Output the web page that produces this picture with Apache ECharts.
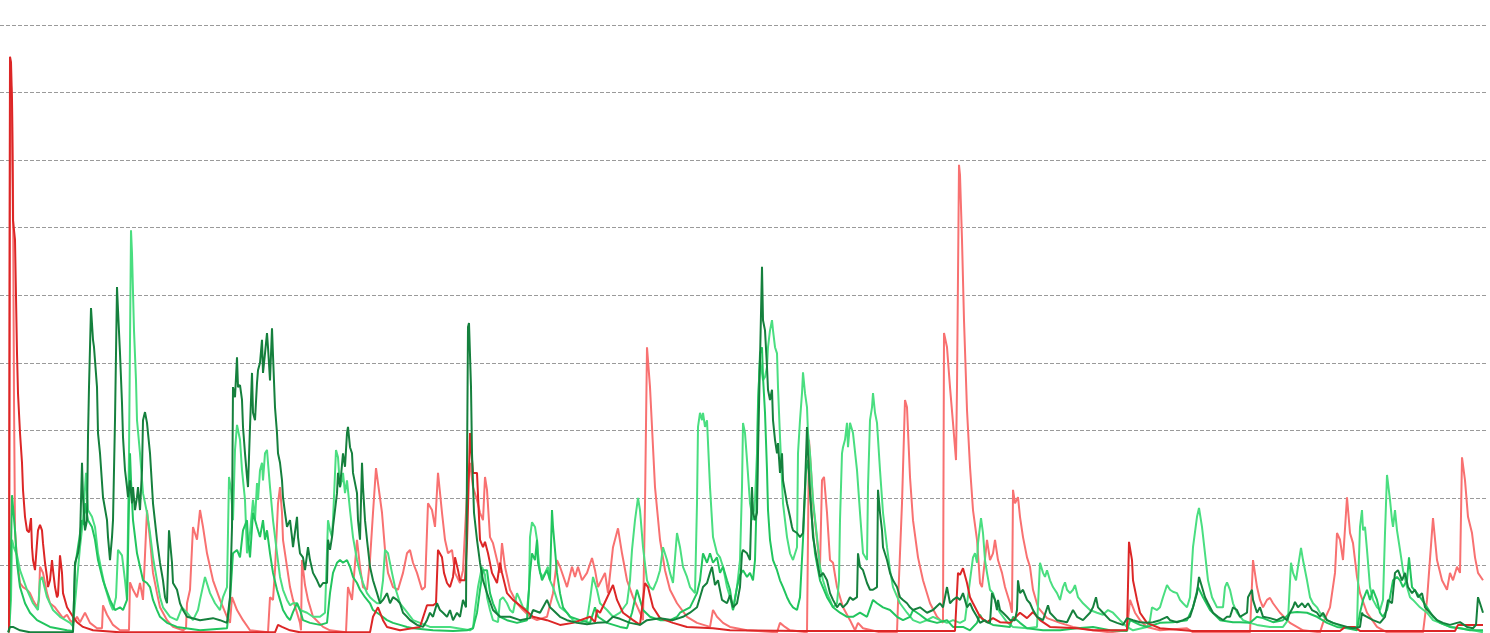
<!DOCTYPE html>
<html>
<head>
<meta charset="utf-8">
<style>html,body{margin:0;padding:0;background:#fff;}#chart{width:1490px;height:633px;}</style>
<script src="https://cdn.jsdelivr.net/npm/echarts@6/dist/echarts.min.js"></script>
</head>
<body>
<div id="chart"></div>
<script>
// y-axis ticks
const yTicks = [0, 10, 20, 30, 40, 50, 60, 70, 80, 90];
const dayRange = [0, 1487];

// [day, value]
const darkRed = [[9,0.1],[10,85.3],[11,84.5],[12,78.9],[13,61.1],[15,58.2],[17,41.4],[18,35.5],[20,29.6],[22,25.2],[23,21.2],[25,17.2],[27,15.2],[29,14.9],[31,17.0],[32,12.7],[33,10.8],[35,9.3],[37,13.3],[38,15.2],[40,16.0],[42,15.2],[43,13.3],[45,10.4],[47,8.3],[48,6.8],[50,7.8],[52,10.8],[53,9.3],[55,6.8],[57,5.3],[58,5.6],[60,11.5],[62,8.9],[63,5.9],[67,3.8],[70,3.1],[73,2.4],[77,1.6],[83,0.9],[93,0.4],[120,0.1],[200,0.1],[275,0.1],[278,1.2],[282,0.9],[290,0.4],[300,0.1],[370,0.1],[373,2.4],[378,3.8],[383,1.9],[387,0.9],[400,0.4],[420,0.9],[427,4.1],[433,4.1],[436,4.4],[438,12.3],[442,11.2],[444,8.9],[447,7.4],[450,6.8],[453,8.3],[455,11.2],[458,9.3],[460,7.8],[465,7.8],[467,13.3],[470,29.6],[473,23.7],[477,23.7],[480,13.8],[483,12.7],[485,13.5],[488,11.8],[492,8.9],[497,7.4],[500,10.4],[502,8.9],[507,5.9],[513,4.9],[523,3.7],[533,2.4],[547,1.9],[560,1.2],[573,1.5],[590,2.4],[595,1.6],[597,3.4],[600,3.0],[613,7.1],[617,4.9],[623,3.0],[633,1.9],[640,1.2],[645,7.4],[648,6.8],[653,3.8],[660,2.2],[673,1.5],[687,0.9],[713,0.7],[730,0.4],[800,0.3],[900,0.3],[955,0.3],[958,8.9],[960,8.6],[963,9.6],[967,7.4],[970,5.3],[973,4.4],[980,2.4],[987,1.6],[993,2.2],[1000,1.6],[1010,1.5],[1020,3.0],[1027,2.2],[1033,3.1],[1040,1.9],[1050,0.9],[1077,0.7],[1093,0.4],[1127,0.4],[1129,13.5],[1132,10.8],[1133,7.8],[1137,4.9],[1140,3.0],[1147,1.5],[1160,0.7],[1193,0.3],[1340,0.3],[1345,0.9],[1355,0.9],[1360,0.3],[1455,0.3],[1458,1.2],[1483,1.2]];

const salmon = [[9,0.1],[10,83.3],[12,78.9],[13,65.6],[14,34.5],[15,15.2],[17,10.8],[20,7.4],[23,6.8],[27,6.4],[30,5.9],[33,4.9],[37,3.8],[39,4.9],[40,9.8],[43,8.9],[47,5.9],[50,4.4],[55,3.8],[57,3.4],[63,2.2],[67,2.7],[70,1.9],[73,1.5],[77,2.4],[80,1.6],[85,3.0],[90,1.5],[97,0.7],[102,0.7],[103,4.1],[107,2.7],[113,1.2],[120,0.4],[129,0.4],[130,7.5],[133,6.4],[137,5.3],[140,7.4],[143,4.9],[147,18.2],[150,13.8],[153,8.9],[157,5.9],[160,3.8],[167,1.9],[173,0.9],[183,0.4],[186,0.7],[187,4.4],[190,6.4],[193,15.7],[197,13.8],[200,18.2],[203,15.7],[207,11.8],[213,7.8],[220,4.9],[227,2.4],[230,1.5],[232,5.3],[237,3.4],[243,1.9],[250,0.4],[268,0.1],[270,5.3],[273,4.9],[275,9.3],[278,19.2],[280,21.6],[282,17.8],[283,13.8],[287,9.8],[290,6.8],[293,4.9],[297,3.0],[300,1.5],[301,0.4],[302,10.8],[305,7.1],[308,4.9],[313,2.4],[323,0.9],[330,0.4],[346,0.1],[348,6.8],[352,4.9],[357,13.8],[360,9.8],[363,6.8],[367,6.4],[370,10.8],[373,17.8],[376,24.4],[378,22.2],[382,17.8],[385,12.3],[388,8.9],[393,6.8],[398,6.4],[403,8.9],[407,11.8],[410,12.3],[413,10.4],[417,8.9],[422,6.4],[425,6.8],[428,19.2],[432,18.2],[435,15.7],[438,23.7],[442,17.8],[445,13.8],[448,11.8],[452,12.3],[455,8.9],[460,7.4],[463,9.3],[467,20.7],[470,25.2],[473,21.6],[477,19.7],[480,17.8],[483,16.7],[485,23.1],[487,21.2],[490,14.2],[493,13.3],[497,10.8],[500,8.9],[502,13.3],[505,9.8],[510,6.4],[517,4.4],[523,3.4],[530,2.4],[537,1.9],[547,2.4],[553,5.9],[557,10.8],[560,9.8],[567,6.8],[572,9.8],[575,8.3],[578,9.8],[582,7.8],[587,8.9],[592,11.1],[595,9.3],[598,6.8],[605,8.9],[608,5.9],[613,12.7],[618,15.5],[622,11.8],[627,7.8],[633,5.3],[640,3.0],[643,1.9],[645,19.2],[647,42.3],[650,36.4],[652,30.5],[655,21.6],[660,13.8],[665,9.3],[670,6.4],[677,4.4],[687,2.4],[697,1.5],[710,0.9],[713,3.4],[717,2.4],[723,1.5],[730,0.9],[747,0.4],[777,0.1],[780,1.5],[785,0.9],[790,0.4],[807,0.1],[809,28.6],[811,24.1],[813,19.2],[817,13.8],[820,9.8],[822,22.6],[824,23.1],[827,17.8],[830,10.8],[833,10.4],[837,6.8],[843,3.8],[850,1.9],[855,0.4],[858,1.5],[863,0.7],[880,0.1],[897,0.1],[898,4.4],[902,19.2],[905,34.5],[907,33.4],[910,23.1],[913,16.7],[918,11.2],[923,7.8],[930,4.4],[937,2.4],[943,1.5],[944,44.4],[947,42.3],[950,36.4],[953,31.1],[956,25.6],[957,36.4],[959,69.3],[960,67.8],[962,58.2],[964,46.3],[967,33.0],[970,24.6],[973,18.2],[977,13.8],[980,7.4],[982,6.8],[987,13.8],[990,10.8],[993,11.8],[995,13.8],[998,10.8],[1002,8.9],[1005,6.8],[1010,4.4],[1012,3.0],[1013,21.2],[1015,19.2],[1018,20.1],[1020,17.2],[1023,14.2],[1027,11.2],[1030,9.8],[1033,6.4],[1038,3.8],[1047,2.2],[1060,1.5],[1073,0.9],[1093,0.4],[1110,0.1],[1127,0.4],[1130,4.9],[1135,3.0],[1140,1.9],[1147,0.9],[1160,0.4],[1187,0.7],[1193,0.1],[1250,0.1],[1253,10.8],[1257,6.8],[1260,4.9],[1263,3.8],[1267,4.9],[1270,5.2],[1273,4.4],[1280,3.0],[1290,1.5],[1303,0.4],[1320,0.1],[1323,1.5],[1330,3.8],[1335,8.9],[1337,14.8],[1340,13.8],[1343,10.8],[1347,20.1],[1350,14.8],[1353,13.3],[1357,8.3],[1360,5.9],[1367,3.0],[1377,0.9],[1387,0.1],[1423,0.1],[1427,4.9],[1433,17.0],[1437,10.8],[1442,7.8],[1447,6.4],[1450,8.9],[1453,7.8],[1457,9.8],[1460,8.9],[1462,26.0],[1465,22.6],[1468,17.2],[1472,14.8],[1475,11.2],[1478,8.9],[1483,7.8]];

const darkGreen = [[8,0.1],[10,0.9],[13,0.9],[20,0.4],[30,0.1],[73,0.1],[74,4.9],[75,10.4],[78,11.8],[80,13.8],[82,25.2],[83,20.1],[85,15.2],[87,16.7],[88,29.0],[89,36.4],[91,48.1],[93,43.4],[94,42.3],[97,36.4],[98,29.6],[100,26.6],[103,20.1],[107,16.7],[108,14.2],[110,10.8],[112,14.2],[113,16.7],[115,31.5],[117,51.2],[118,47.8],[120,41.4],[122,34.0],[123,29.0],[125,24.1],[127,21.6],[128,20.1],[130,22.6],[132,19.2],[133,21.6],[135,18.2],[137,20.1],[138,21.6],[140,18.2],[142,24.1],[143,31.5],[145,32.7],[147,31.1],[148,29.6],[150,26.6],[153,19.2],[157,13.8],[160,10.4],[163,7.8],[165,5.3],[167,4.4],[169,15.2],[172,10.4],[173,7.4],[177,6.4],[180,4.4],[183,3.4],[187,2.4],[200,1.9],[213,2.2],[220,1.9],[227,1.5],[230,5.3],[232,15.7],[233,36.4],[235,34.9],[237,40.8],[238,36.4],[240,36.7],[242,34.5],[243,30.5],[245,26.6],[247,23.1],[248,21.6],[250,30.5],[252,38.5],[253,32.6],[255,31.5],[257,37.0],[258,38.9],[260,40.0],[262,43.4],[263,38.5],[265,41.4],[267,44.4],[268,42.3],[270,37.4],[272,45.1],[273,41.1],[275,33.4],[277,29.6],[278,26.6],[280,25.2],[282,22.6],[283,20.1],[285,17.8],[287,15.7],[290,16.7],[292,14.2],[293,12.7],[297,17.2],[298,14.2],[300,11.8],[303,11.2],[305,9.3],[308,12.7],[310,10.8],[313,8.9],[317,7.8],[320,6.8],[323,7.4],[327,7.4],[328,13.8],[330,12.3],[332,14.2],[333,15.7],[337,20.7],[338,23.7],[340,21.6],[343,26.6],[345,24.6],[347,29.6],[348,30.5],[350,27.5],[352,26.6],[353,23.7],[357,20.7],[358,16.7],[360,13.8],[362,25.2],[363,21.6],[365,16.7],[367,13.8],[370,9.8],[373,7.8],[377,5.9],[380,4.4],[383,4.9],[387,5.9],[390,4.4],[393,5.3],[397,4.9],[400,4.4],[403,3.0],[407,2.4],[410,1.9],[417,1.2],[423,0.9],[427,1.9],[430,3.0],[433,2.4],[437,4.4],[440,3.4],[443,3.0],[447,2.4],[450,3.4],[453,1.9],[457,3.0],[460,2.4],[463,4.9],[466,3.8],[468,45.3],[469,45.9],[471,36.4],[472,26.6],[474,17.8],[477,13.8],[480,10.4],[483,7.8],[487,5.9],[493,3.4],[500,2.4],[510,2.4],[520,1.9],[530,2.2],[533,3.4],[540,3.0],[547,4.9],[550,3.8],[553,3.4],[560,2.4],[567,1.9],[577,1.5],[587,1.3],[597,1.5],[607,1.6],[613,2.4],[620,2.1],[630,1.5],[640,1.2],[647,1.9],[660,2.2],[673,1.9],[683,2.4],[690,3.0],[697,3.8],[700,5.3],[703,6.8],[707,7.4],[710,8.9],[712,9.8],[715,7.1],[718,7.8],[722,4.9],[727,4.4],[730,5.6],[733,3.8],[737,4.4],[740,6.8],[742,11.8],[743,12.3],[747,11.8],[750,10.8],[752,21.6],[753,17.8],[755,16.7],[757,17.8],[758,26.6],[760,40.4],[762,54.2],[763,46.3],[765,44.8],[767,39.4],[768,36.0],[770,34.5],[772,36.0],[773,31.5],[775,28.6],[777,26.6],[778,28.1],[780,23.7],[782,26.6],[783,22.6],[787,19.2],[790,17.2],[792,15.7],[793,15.2],[797,14.8],[800,14.2],[803,14.8],[805,21.6],[807,30.5],[808,26.6],[810,20.7],[812,16.7],[813,14.2],[817,10.8],[820,8.3],[823,8.9],[827,7.8],[830,5.9],[833,4.9],[837,3.8],[840,4.4],[843,3.8],[847,4.4],[850,5.3],[853,4.9],[857,5.3],[858,11.8],[860,9.8],[863,9.3],[867,7.4],[870,6.4],[873,6.4],[877,6.8],[878,21.2],[880,17.8],[882,15.2],[883,12.7],[887,10.8],[890,8.9],[893,7.8],[897,6.8],[900,5.3],[903,4.9],[907,4.4],[910,3.8],[913,3.4],[920,3.8],[927,3.0],[933,3.4],[940,4.4],[943,3.8],[947,6.8],[950,4.4],[953,4.9],[957,5.3],[960,4.9],[963,5.9],[965,6.1],[967,3.8],[970,4.4],[973,3.4],[977,2.4],[980,1.5],[985,1.9],[987,1.6],[990,1.5],[992,5.9],[995,4.9],[997,3.4],[998,4.9],[1000,3.4],[1003,3.0],[1007,2.4],[1010,1.9],[1015,1.9],[1017,3.4],[1018,7.8],[1020,5.9],[1023,6.4],[1027,4.9],[1030,4.4],[1033,3.4],[1037,2.4],[1043,1.9],[1048,4.1],[1050,3.0],[1057,1.9],[1067,1.6],[1073,3.4],[1077,2.4],[1083,1.9],[1090,3.0],[1093,3.8],[1096,5.3],[1098,3.8],[1103,3.0],[1110,1.9],[1117,1.5],[1123,1.2],[1127,2.2],[1133,1.9],[1140,1.6],[1147,1.5],[1153,1.6],[1160,1.9],[1167,2.4],[1170,1.9],[1177,1.6],[1183,1.9],[1190,2.4],[1193,3.8],[1197,5.9],[1199,8.3],[1202,6.8],[1205,5.3],[1208,4.4],[1213,3.0],[1218,2.4],[1223,1.9],[1227,2.4],[1230,2.4],[1233,3.8],[1237,3.4],[1240,2.4],[1247,3.0],[1248,5.3],[1252,6.4],[1253,4.9],[1257,3.0],[1260,3.8],[1263,2.4],[1270,2.2],[1277,1.9],[1283,2.4],[1287,1.9],[1290,3.0],[1293,3.8],[1295,4.6],[1298,3.8],[1302,4.4],[1305,3.8],[1308,4.4],[1312,3.4],[1317,3.0],[1320,2.4],[1323,3.0],[1327,1.9],[1333,1.5],[1340,1.2],[1347,0.9],[1353,0.7],[1360,0.9],[1362,3.0],[1363,2.7],[1367,2.4],[1373,1.9],[1380,1.5],[1385,2.4],[1388,4.9],[1392,4.4],[1395,8.9],[1398,9.3],[1402,7.8],[1405,8.9],[1408,6.8],[1412,5.9],[1415,6.4],[1418,5.3],[1422,5.9],[1425,3.8],[1430,3.0],[1437,1.9],[1443,1.5],[1450,1.2],[1457,1.5],[1460,1.6],[1467,0.9],[1473,0.7],[1476,1.2],[1478,5.3],[1480,4.4],[1483,3.0]];

const midGreen = [[9,0.1],[10,4.9],[12,20.4],[15,15.2],[17,10.4],[20,6.8],[25,4.4],[30,3.0],[37,1.9],[50,0.9],[67,0.4],[73,0.3],[75,9.8],[78,12.7],[82,16.7],[84,16.0],[85,19.2],[88,16.7],[92,15.7],[95,13.8],[98,10.8],[103,7.8],[110,4.9],[115,3.4],[120,3.8],[123,3.4],[127,4.9],[128,11.8],[130,26.6],[131,22.6],[133,16.7],[137,11.8],[140,9.8],[143,7.8],[147,7.4],[150,6.8],[153,4.9],[157,3.4],[160,2.4],[167,1.5],[177,0.9],[200,0.4],[227,0.7],[230,4.9],[233,11.8],[237,12.3],[240,11.2],[243,15.2],[247,16.7],[248,13.8],[250,11.2],[253,17.8],[257,15.7],[260,14.2],[263,16.7],[265,13.8],[267,15.2],[270,11.8],[273,8.9],[277,6.4],[280,4.9],[283,3.4],[287,2.4],[290,1.9],[293,3.1],[297,4.4],[300,3.4],[303,1.9],[310,1.5],[320,1.2],[327,1.5],[330,5.9],[333,8.9],[337,10.4],[340,10.8],[343,10.4],[347,10.8],[350,9.8],[353,8.3],[357,7.4],[360,6.4],[365,5.3],[370,4.4],[373,3.4],[380,2.7],[387,1.9],[393,1.5],[400,1.2],[407,0.9],[413,0.7],[433,0.4],[453,0.3],[467,0.4],[473,0.7],[477,3.0],[480,6.4],[483,9.3],[487,9.3],[490,5.9],[493,4.4],[497,3.0],[500,2.4],[507,1.9],[517,1.5],[527,1.9],[530,8.9],[532,11.8],[535,10.8],[537,13.8],[538,10.4],[542,7.8],[547,9.3],[550,7.8],[552,18.2],[553,15.7],[557,8.9],[560,5.9],[563,3.8],[570,2.4],[580,1.9],[590,1.5],[595,3.8],[598,2.4],[607,1.5],[620,0.9],[627,0.7],[632,3.0],[637,6.4],[640,4.9],[643,3.4],[650,2.4],[660,1.9],[670,1.9],[677,2.4],[680,3.0],[690,3.8],[697,5.9],[700,7.8],[703,11.8],[707,10.4],[710,11.8],[713,10.4],[717,11.2],[720,8.9],[723,9.8],[727,7.8],[730,6.4],[733,3.4],[737,6.8],[740,8.6],[743,9.3],[747,8.3],[750,8.9],[753,7.8],[755,10.8],[757,21.6],[758,33.4],[760,41.4],[762,42.3],[763,37.9],[765,32.6],[767,24.1],[768,18.2],[770,13.8],[773,10.8],[777,9.3],[780,7.8],[783,6.8],[787,5.3],[790,4.4],[793,3.8],[797,3.4],[800,5.3],[803,13.8],[806,24.1],[808,25.6],[810,21.2],[812,16.7],[815,11.8],[820,7.8],[827,5.3],[833,3.8],[840,3.0],[847,2.4],[853,2.4],[860,3.0],[867,2.4],[873,4.9],[877,4.4],[883,3.8],[890,3.4],[897,2.4],[903,1.9],[910,2.4],[913,3.4],[920,2.7],[927,1.9],[937,1.5],[947,1.9],[953,0.9],[963,0.9],[970,0.4],[977,1.5],[980,2.7],[983,1.9],[993,1.2],[1010,0.9],[1013,2.4],[1020,1.5],[1027,0.7],[1043,0.4],[1060,0.4],[1077,0.7],[1093,0.9],[1110,0.4],[1127,0.3],[1130,1.9],[1140,1.2],[1147,0.9],[1160,1.5],[1173,1.6],[1187,1.9],[1193,3.8],[1198,6.8],[1203,5.3],[1210,3.4],[1220,1.9],[1233,1.6],[1240,1.6],[1250,1.5],[1257,2.4],[1263,2.2],[1273,1.6],[1283,1.9],[1290,3.0],[1297,3.1],[1307,3.0],[1317,2.4],[1327,1.5],[1337,0.9],[1347,0.7],[1357,0.4],[1360,3.0],[1363,4.9],[1367,6.4],[1370,4.9],[1373,6.4],[1377,4.9],[1380,3.0],[1383,2.4],[1387,3.4],[1390,5.3],[1393,7.8],[1397,8.3],[1400,7.8],[1403,6.8],[1407,7.8],[1409,11.2],[1412,6.8],[1417,5.9],[1422,4.9],[1427,3.8],[1433,2.4],[1440,1.5],[1450,0.9],[1460,0.7],[1470,0.4],[1483,0.4]];

const lightGreen = [[9,0.1],[11,4.9],[12,13.8],[14,12.6],[17,11.5],[20,9.3],[27,6.4],[33,4.4],[38,3.4],[40,7.8],[42,8.3],[47,5.3],[53,3.4],[60,2.4],[70,1.5],[73,1.0],[77,7.8],[80,12.7],[83,16.7],[86,23.7],[88,18.2],[92,17.2],[95,15.7],[98,11.8],[102,8.9],[105,6.8],[110,4.4],[113,3.4],[116,5.3],[118,12.3],[122,11.5],[125,7.8],[127,4.9],[129,26.6],[131,59.6],[132,56.2],[134,44.8],[136,37.4],[137,31.5],[140,26.6],[143,20.7],[147,17.8],[150,14.8],[153,11.2],[157,7.8],[160,5.3],[163,3.8],[170,2.4],[177,1.9],[182,3.8],[187,3.0],[193,1.9],[198,3.4],[200,4.9],[205,8.3],[210,5.9],[215,4.4],[220,3.4],[223,5.3],[227,6.8],[229,23.1],[231,21.2],[233,16.7],[235,27.1],[237,30.8],[240,28.6],[242,24.1],[245,19.7],[247,11.8],[250,14.8],[253,19.7],[255,16.7],[257,22.2],[258,19.7],[260,24.1],[262,25.2],[263,22.6],[265,26.6],[267,27.1],[268,25.2],[270,21.6],[273,16.7],[277,11.8],[280,8.3],[283,6.4],[287,4.9],[290,4.1],[293,4.4],[297,4.4],[300,3.4],[307,3.0],[313,2.4],[320,2.4],[325,3.0],[328,16.7],[330,15.2],[332,14.2],[333,16.7],[336,27.1],[338,26.0],[340,21.6],[342,22.6],[343,23.7],[345,20.7],[347,22.6],[350,18.2],[353,14.2],[357,10.8],[360,8.9],[363,7.4],[367,5.9],[370,5.3],[373,4.9],[377,4.4],[380,4.4],[383,7.8],[385,12.3],[388,11.8],[392,8.9],[395,6.8],[400,4.4],[407,3.1],[413,1.9],[420,1.5],[430,0.9],[450,0.9],[470,0.4],[473,0.7],[475,3.4],[478,6.8],[482,9.8],[485,8.6],[487,5.3],[490,3.4],[493,1.9],[498,1.6],[500,4.9],[503,5.3],[507,4.4],[510,3.4],[513,3.0],[517,5.9],[520,4.9],[523,3.8],[527,3.4],[529,6.4],[530,14.2],[532,16.4],[535,15.7],[537,13.8],[538,11.8],[540,8.9],[543,8.3],[545,8.9],[548,9.8],[550,7.8],[553,6.8],[557,4.9],[560,3.8],[567,3.0],[573,1.9],[580,1.5],[587,1.9],[590,4.9],[593,8.3],[597,6.4],[600,4.4],[607,3.4],[613,2.4],[620,3.0],[627,4.4],[630,7.8],[632,12.3],[635,16.7],[638,20.0],[640,18.2],[643,12.7],[647,7.8],[650,6.8],[653,6.4],[657,7.8],[660,9.3],[663,12.7],[667,10.8],[670,8.9],[673,7.4],[677,14.8],[680,12.7],[683,9.8],[687,8.3],[690,6.8],[695,5.9],[697,19.2],[698,30.5],[700,32.6],[702,31.5],[703,32.6],[705,30.5],[707,31.5],[710,21.6],[713,14.2],[717,11.8],[720,11.2],[723,9.8],[727,6.8],[730,5.3],[733,3.4],[737,6.8],[740,10.8],[742,21.6],[743,31.1],[745,29.6],[747,25.6],[750,19.2],[753,16.7],[755,19.7],[757,26.6],[758,34.0],[760,40.4],[762,38.5],[763,37.4],[765,37.9],[767,39.4],[768,42.3],[770,44.8],[772,46.3],[773,44.8],[775,42.3],[777,41.4],[778,36.4],[780,29.0],[783,19.2],[787,14.2],[790,11.8],[793,10.8],[797,12.7],[798,26.6],[800,31.5],[802,35.5],[803,38.6],[805,35.5],[807,33.4],[808,29.6],[810,26.6],[813,19.7],[817,14.2],[820,9.8],[823,7.8],[827,5.9],[830,4.9],[833,3.8],[837,4.4],[839,7.8],[840,16.7],[842,26.6],[843,27.5],[845,28.6],[847,31.1],[848,27.5],[850,31.1],[852,31.1],[853,29.6],[857,24.1],[860,17.8],[863,11.8],[867,10.8],[868,21.6],[870,31.5],[872,33.4],[873,35.5],[875,32.6],[877,31.1],[880,24.1],[883,17.8],[887,12.7],[890,9.3],[893,6.8],[900,4.4],[907,3.0],[913,1.9],[920,1.5],[927,1.9],[933,2.4],[940,1.9],[947,1.5],[953,1.9],[960,1.5],[965,1.9],[970,7.8],[973,11.2],[975,11.8],[977,10.4],[978,13.3],[981,17.0],[983,14.8],[985,10.8],[987,8.9],[990,6.4],[993,5.9],[997,3.8],[1000,3.0],[1007,1.6],[1013,0.9],[1027,0.7],[1037,0.9],[1040,10.4],[1043,8.9],[1045,8.3],[1047,9.3],[1050,7.8],[1053,6.8],[1057,5.9],[1060,4.9],[1063,6.8],[1065,7.5],[1067,6.4],[1070,5.9],[1073,6.4],[1075,7.1],[1078,5.3],[1083,4.4],[1090,3.4],[1097,3.0],[1103,2.7],[1108,3.4],[1113,3.0],[1120,1.9],[1127,0.9],[1133,0.4],[1147,0.9],[1150,1.9],[1152,3.8],[1157,3.4],[1160,3.8],[1163,5.3],[1167,7.1],[1170,6.4],[1173,6.1],[1177,5.9],[1180,4.9],[1183,4.4],[1187,3.8],[1190,5.3],[1193,12.7],[1197,17.2],[1199,18.5],[1202,15.7],[1205,11.8],[1208,7.8],[1212,5.3],[1217,3.8],[1223,3.8],[1225,6.8],[1227,7.5],[1230,6.4],[1233,4.4],[1237,3.0],[1243,1.9],[1250,1.5],[1257,1.2],[1270,0.9],[1283,0.9],[1288,1.9],[1291,10.4],[1293,8.9],[1296,7.8],[1298,9.8],[1301,12.6],[1303,10.8],[1307,7.8],[1310,5.3],[1313,4.4],[1317,3.8],[1320,3.0],[1327,1.9],[1333,1.5],[1343,0.9],[1353,0.7],[1357,0.9],[1358,6.8],[1360,15.7],[1362,18.2],[1363,15.2],[1365,15.7],[1367,12.3],[1370,6.8],[1373,4.9],[1377,3.8],[1380,3.4],[1383,4.9],[1385,14.8],[1387,23.4],[1388,22.2],[1390,19.7],[1392,16.7],[1393,15.7],[1395,18.2],[1397,15.2],[1400,12.3],[1403,9.3],[1407,6.8],[1410,5.3],[1413,4.9],[1420,3.8],[1427,3.0],[1433,1.9],[1440,1.5],[1450,0.9],[1460,0.7],[1473,0.4],[1483,0.1]];

const seriesDefs = [
  { name: 'salmon', data: salmon, color: '#f87171' },
  { name: 'lightGreen', data: lightGreen, color: '#4ade80' },
  { name: 'midGreen', data: midGreen, color: '#22c55e' },
  { name: 'darkRed', data: darkRed, color: '#dc2626' },
  { name: 'darkGreen', data: darkGreen, color: '#15803d' }
];

const chart = echarts.init(document.getElementById('chart'), null, { renderer: 'canvas' });
chart.setOption({
  animation: false,
  backgroundColor: '#ffffff',
  grid: { left: 0, right: 3, top: 25, bottom: 0, containLabel: false },
  xAxis: {
    type: 'value', min: dayRange[0], max: dayRange[1],
    show: false, splitLine: { show: false }
  },
  yAxis: {
    type: 'value', min: yTicks[0], max: yTicks[yTicks.length - 1], interval: yTicks[1] - yTicks[0],
    axisLine: { show: false }, axisTick: { show: false }, axisLabel: { show: false },
    splitLine: { show: true, lineStyle: { type: 'dashed', color: '#9a9a9a', width: 1 } }
  },
  series: seriesDefs.map(s => ({
    name: s.name, type: 'line', data: s.data, showSymbol: false, symbol: 'none',
    smooth: false, lineStyle: { color: s.color, width: 2 }, itemStyle: { color: s.color }
  }))
});
</script>
</body>
</html>
